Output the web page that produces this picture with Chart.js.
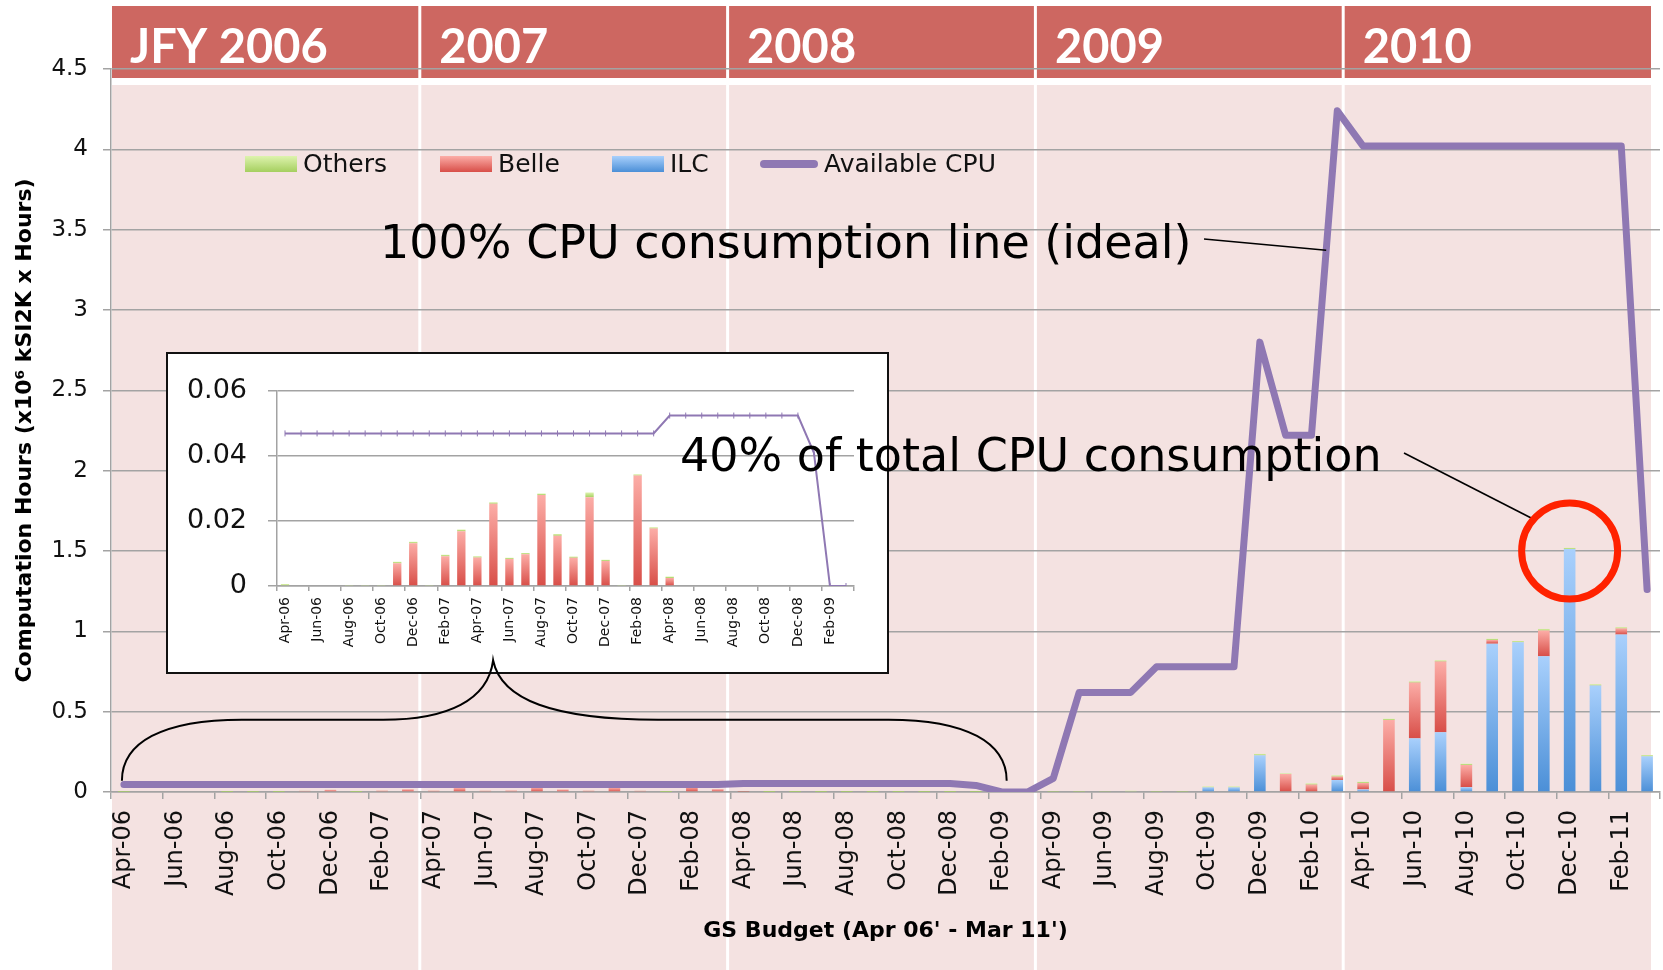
<!DOCTYPE html>
<html>
<head>
<meta charset="utf-8">
<script src="https://cdn.jsdelivr.net/npm/chart.js@4.4.0/dist/chart.umd.min.js"></script>
<style>
  html, body { margin: 0; padding: 0; background: #fff; }
  #wrap { position: relative; width: 1663px; height: 970px; overflow: hidden; }
  #main { position: absolute; left: 0; top: 0; }
  #insetBox { position: absolute; left: 166px; top: 352px; width: 719px; height: 318px;
              border: 2px solid #111; background: #fff; }
  #inset { display: block; }
  #overlay { position: absolute; left: 0; top: 0; pointer-events: none; }
</style>
</head>
<body>
<div id="wrap">
  <canvas id="main" width="1663" height="970"></canvas>
  <div id="insetBox"><canvas id="inset" width="719" height="318"></canvas></div>
  <canvas id="overlay" width="1663" height="970"></canvas>
</div>
<script>
// monthly data, JFY 2006 (Apr-06) .. JFY 2010 (Mar-11)
const months = [
  'Apr-06','May-06','Jun-06','Jul-06','Aug-06','Sep-06','Oct-06','Nov-06','Dec-06','Jan-07','Feb-07','Mar-07',
  'Apr-07','May-07','Jun-07','Jul-07','Aug-07','Sep-07','Oct-07','Nov-07','Dec-07','Jan-08','Feb-08','Mar-08',
  'Apr-08','May-08','Jun-08','Jul-08','Aug-08','Sep-08','Oct-08','Nov-08','Dec-08','Jan-09','Feb-09','Mar-09',
  'Apr-09','May-09','Jun-09','Jul-09','Aug-09','Sep-09','Oct-09','Nov-09','Dec-09','Jan-10','Feb-10','Mar-10',
  'Apr-10','May-10','Jun-10','Jul-10','Aug-10','Sep-10','Oct-10','Nov-10','Dec-10','Jan-11','Feb-11','Mar-11'
];
const yearLabels = ['JFY 2006', '2007', '2008', '2009', '2010'];

const others = [
  0.0006,0,0,0,0.0003,0.0003,0.0003,0.0005,0.0004,0.0003,0.0004,0.0005,
  0.0004,0.0005,0.0004,0.0004,0.0005,0.0005,0.0004,0.0015,0.0004,0.0003,0.0004,0.0004,
  0.0004,0.0002,0.0002,0.0002,0.0002,0.0002,0.0002,0.0002,0.0002,0.0002,0,0,
  0.002,0.002,0.003,0.008,0.002,0.002,0.006,0.006,0.009,0.004,0.008,0.008,
  0.008,0.008,0.008,0.008,0.008,0.008,0.008,0.010,0.008,0.008,0.008,0.008
];
const belle = [
  0,0,0,0,0,0,0,0.0070,0.0132,0,0.0092,0.0169,
  0.0088,0.0253,0.0083,0.0098,0.0280,0.0155,0.0087,0.0273,0.0077,0,0.0340,0.0177,
  0.0025,0,0,0,0,0,0,0,0,0,0,0,
  0,0,0,0,0,0,0,0,0,0.112,0.046,0.021,
  0.040,0.448,0.347,0.440,0.138,0.023,0,0.160,0,0,0.038,0
];
const ilc = [
  0,0,0,0,0,0,0,0,0,0,0,0,
  0,0,0,0,0,0,0,0,0,0,0,0,
  0,0,0,0,0,0,0,0,0,0,0,0,
  0,0,0,0,0,0,0.029,0.029,0.228,0,0,0.075,
  0.016,0,0.334,0.372,0.030,0.923,0.932,0.845,1.512,0.663,0.980,0.222
];
const availableCpu = [
  0.047,0.047,0.047,0.047,0.047,0.047,0.047,0.047,0.047,0.047,0.047,0.047,
  0.047,0.047,0.047,0.047,0.047,0.047,0.047,0.047,0.047,0.047,0.047,0.047,
  0.0525,0.0525,0.0525,0.0525,0.0525,0.0525,0.0525,0.0525,0.0525,0.041,0,0,
  0.085,0.62,0.62,0.62,0.78,0.78,0.78,0.78,2.80,2.22,2.22,4.24,
  4.02,4.02,4.02,4.02,4.02,4.02,4.02,4.02,4.02,4.02,4.02,1.26
];
const insetCount = 36; // Apr-06 .. Mar-09 in the zoomed box

const C = {
  ilcL: '#A9D0FC', ilcD: '#4B8FD7',
  belL: '#FCADA7', belD: '#D84E48',
  othL: '#DEF3AE', othD: '#A5CF5F',
  cpu: '#8F78B3', grid: '#A3A3A3', header: '#CD6761', pink: '#F4E2E1'
};
Chart.defaults.font.family = '"DejaVu Sans", sans-serif';

// vertical gradient per stacked segment
function segFill(light, dark, below, own) {
  return (c) => {
    const ch = c.chart, y = ch.scales && ch.scales.y;
    if (!ch.chartArea || !y || c.type !== 'data') return dark;
    const i = c.dataIndex;
    let base = 0; below.forEach(a => { base += a[i]; });
    const p0 = y.getPixelForValue(base), p1 = y.getPixelForValue(base + own[i]);
    if (!(p0 - p1 > 0.5)) return dark;
    const g = ch.ctx.createLinearGradient(0, p1, 0, p0);
    g.addColorStop(0, light); g.addColorStop(1, dark);
    return g;
  };
}

function barSets(n, pct) {
  const common = { stack: 'use', order: 1, barPercentage: pct, categoryPercentage: 1 };
  return [
    Object.assign({ label: 'ILC', data: ilc.slice(0, n), backgroundColor: segFill(C.ilcL, C.ilcD, [], ilc), swatch: [C.ilcL, C.ilcD] }, common),
    Object.assign({ label: 'Belle', data: belle.slice(0, n), backgroundColor: segFill(C.belL, C.belD, [ilc], belle), swatch: [C.belL, C.belD] }, common),
    Object.assign({ label: 'Others', data: others.slice(0, n), backgroundColor: segFill(C.othL, C.othD, [ilc, belle], others), swatch: [C.othL, C.othD] }, common)
  ];
}

const everyOther = c => (c.index === undefined || c.index % 2 === 0) ? C.grid : 'rgba(0,0,0,0)';

// pink year columns and red year headers
const bgPlugin = {
  id: 'yearBands',
  beforeDraw(chart) {
    const { ctx, chartArea: a } = chart;
    const w = (a.right - a.left - 10) / yearLabels.length;
    ctx.save();
    yearLabels.forEach((t, k) => {
      const x0 = a.left + 1 + k * w + (k ? 1.5 : 0);
      const x1 = a.left + 1 + (k + 1) * w - (k < yearLabels.length - 1 ? 1.5 : 0);
      ctx.fillStyle = C.pink; ctx.fillRect(x0, 85, x1 - x0, chart.height - 85);
      ctx.fillStyle = C.header; ctx.fillRect(x0, 6, x1 - x0, 72);
      ctx.fillStyle = '#fff'; ctx.font = 'bold 47px Lato'; ctx.textBaseline = 'alphabetic';
      ctx.fillText(t, x0 + 18, 63);
    });
    ctx.restore();
  }
};

// legend inside the plot: Others, Belle, ILC, Available CPU
const legendPlugin = {
  id: 'innerLegend',
  afterDraw(chart) {
    const ctx = chart.ctx;
    const slots = [['Others', 245, 52], ['Belle', 440, 52], ['ILC', 612, 52], ['Available CPU', 760, 58]];
    ctx.save();
    ctx.font = '25px "DejaVu Sans"'; ctx.textBaseline = 'middle'; ctx.fillStyle = '#111';
    slots.forEach(([name, x, w]) => {
      const ds = chart.data.datasets.find(d => d.label === name);
      if (ds.type === 'line') {
        ctx.strokeStyle = ds.borderColor; ctx.lineWidth = 8; ctx.lineCap = 'round';
        ctx.beginPath(); ctx.moveTo(x + 4, 164); ctx.lineTo(x + w - 4, 164); ctx.stroke();
      } else {
        const g = ctx.createLinearGradient(0, 156, 0, 172);
        g.addColorStop(0, ds.swatch[0]); g.addColorStop(1, ds.swatch[1]);
        ctx.fillStyle = g; ctx.fillRect(x, 156, w, 16);
      }
      ctx.fillStyle = '#111';
      ctx.fillText(name, x + w + 6, 165);
    });
    ctx.restore();
  }
};

// annotations on top of everything (text, pointers, circle, brace)
const overlayPlugin = {
  id: 'notes',
  afterDraw(chart) {
    const o = document.getElementById('overlay').getContext('2d');
    const xs = chart.scales.x, ys = chart.scales.y;
    const X = v => xs.getPixelForValue(v), Y = v => ys.getPixelForValue(v);
    o.clearRect(0, 0, 1663, 970);
    o.fillStyle = '#000'; o.strokeStyle = '#000';
    o.font = '46px "DejaVu Sans"'; o.textBaseline = 'alphabetic';
    o.fillText('100% CPU consumption line (ideal)', 380, 258);
    o.fillText('40% of total CPU consumption', 680, 471);

    // pointer to the steep rise of the CPU line (Feb-10 -> Mar-10)
    const t = 0.57;
    const px = X(46) + (X(47) - X(46)) * t;
    const py = Y(availableCpu[46] + (availableCpu[47] - availableCpu[46]) * t);
    o.lineWidth = 1.6;
    o.beginPath(); o.moveTo(1204, 239); o.lineTo(px, py); o.stroke();

    // circle round Dec-10
    const cx = X(56), cy = Y(1.5), r = 48;
    const ang = Math.PI * 1.23;
    o.beginPath(); o.moveTo(1404, 453); o.lineTo(cx + r * Math.cos(ang), cy + r * Math.sin(ang)); o.stroke();
    o.strokeStyle = '#FF2200'; o.lineWidth = 7;
    o.beginPath(); o.arc(cx, cy, r, 0, Math.PI * 2); o.stroke();

    // curly brace over JFY 2006-2008
    const xl = X(0) - 2, xr = X(34) + 5, xt = X(14.3);
    const yb = Y(0.07), ym = Y(0.45), yt = Y(0.82);
    o.strokeStyle = '#000'; o.lineWidth = 2;
    o.beginPath();
    o.moveTo(xl, yb);
    o.bezierCurveTo(xl, yb - 38, xl + 40, ym, xl + 120, ym);
    o.lineTo(xt - 110, ym);
    o.bezierCurveTo(xt - 45, ym, xt - 5, ym - 20, xt, yt);
    o.bezierCurveTo(xt + 8, ym - 20, xt + 60, ym, xt + 165, ym);
    o.lineTo(xr - 118, ym);
    o.bezierCurveTo(xr - 40, ym, xr, yb - 38, xr, yb);
    o.stroke();
  }
};

const plainNum = v => String(Math.round(v * 1000) / 1000);
// keep the plot edges where the layout puts them (no extra room for rotated labels)
const noSidePad = s => { s.paddingLeft = 0; s.paddingRight = 0; };

new Chart(document.getElementById('main'), {
  type: 'bar',
  data: {
    labels: months,
    datasets: [
      ...barSets(months.length, 0.45),
      { type: 'line', label: 'Available CPU', data: availableCpu, borderColor: C.cpu, borderWidth: 7,
        pointRadius: 0, tension: 0, borderJoinStyle: 'round', borderCapStyle: 'round', stack: 'cpu', order: 0 }
    ]
  },
  options: {
    responsive: false, animation: false, devicePixelRatio: 1,
    layout: { autoPadding: false, padding: { top: 69, right: 3, left: 0, bottom: 0 } },
    plugins: { legend: { display: false }, tooltip: { enabled: false } },
    scales: {
      x: {
        stacked: true,
        grid: { drawOnChartArea: false, tickLength: 7, lineWidth: 1.5, color: everyOther },
        border: { color: C.grid, width: 1.5 },
        ticks: { autoSkip: false, minRotation: 90, maxRotation: 90, padding: 11, color: '#111', font: { size: 24 },
                 callback(v, i) { return i % 2 === 0 ? this.getLabelForValue(v) : ''; } },
        title: { display: true, text: "GS Budget (Apr 06' - Mar 11')", color: '#000',
                 font: { size: 22, weight: 'bold' }, padding: { top: 0, bottom: 26 } },
        afterFit(s) { s.height = 178; noSidePad(s); }
      },
      y: {
        stacked: true, min: 0, max: 4.5,
        ticks: { stepSize: 0.5, padding: 15, color: '#111', font: { size: 23 }, callback: plainNum },
        grid: { color: C.grid, lineWidth: 1.5, tickLength: 8 },
        border: { color: C.grid, width: 1.5 },
        title: { display: true, text: 'Computation Hours (x10⁶ kSI2K x Hours)', color: '#000',
                 font: { size: 22, weight: 'bold' }, padding: { top: 12, bottom: 0 } },
        afterFit(s) { s.width = 111; }
      }
    }
  },
  plugins: [bgPlugin, legendPlugin, overlayPlugin]
});

// zoomed inset: Apr-06 .. Mar-09
new Chart(document.getElementById('inset'), {
  type: 'bar',
  data: {
    labels: months.slice(0, insetCount),
    datasets: [
      ...barSets(insetCount, 0.52),
      { type: 'line', label: 'Available CPU', data: availableCpu.slice(0, insetCount), borderColor: C.cpu, borderWidth: 2,
        pointStyle: 'line', pointRotation: 90, pointRadius: 3, pointBorderWidth: 1, pointBorderColor: C.cpu,
        tension: 0, stack: 'cpu', order: 0 }
    ]
  },
  options: {
    responsive: false, animation: false, devicePixelRatio: 1,
    layout: { autoPadding: false, padding: { top: 33, right: 33, left: 0, bottom: 0 } },
    plugins: { legend: { display: false }, tooltip: { enabled: false } },
    scales: {
      x: {
        stacked: true,
        grid: { drawOnChartArea: false, tickLength: 5, lineWidth: 1.5, color: everyOther },
        border: { color: C.grid, width: 1.5 },
        ticks: { autoSkip: false, minRotation: 90, maxRotation: 90, padding: 6, color: '#111', font: { size: 14 },
                 callback(v, i) { return i % 2 === 0 ? this.getLabelForValue(v) : ''; } },
        afterFit(s) { s.height = 86; noSidePad(s); }
      },
      y: {
        stacked: true, min: 0, max: 0.06,
        ticks: { stepSize: 0.02, padding: 21, color: '#111', font: { size: 27 },
                 callback: v => v === 0 ? '0' : v.toFixed(2) },
        grid: { color: C.grid, lineWidth: 1.5, tickLength: 9 },
        border: { color: C.grid, width: 1.5 },
        afterFit(s) { s.width = 109; }
      }
    }
  }
});
</script>
</body>
</html>
